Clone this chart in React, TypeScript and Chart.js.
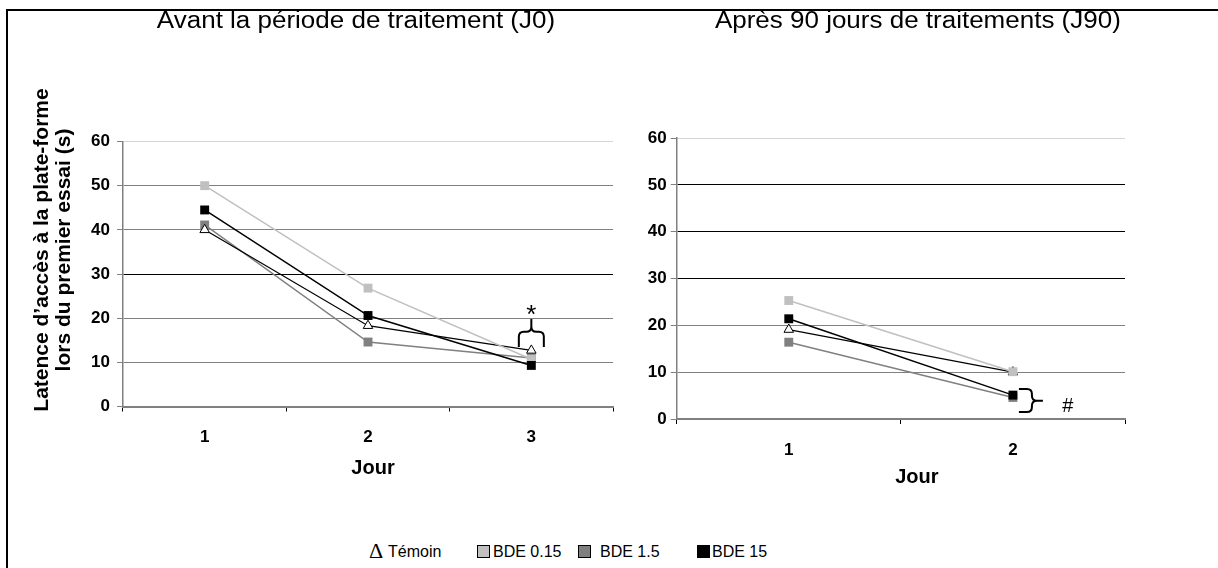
import React, { useEffect, useRef } from "react";
import { Chart, registerables } from "chart.js";

Chart.register(...registerables);

const FONT = '"Liberation Sans", Arial, Helvetica, sans-serif';
const SERIF = '"Liberation Serif", "Times New Roman", serif';

// ---------------- data ----------------
const seriesNames = ["Témoin", "BDE 0.15", "BDE 1.5", "BDE 15"];
const daysJ0 = ["1", "2", "3"];
const daysJ90 = ["1", "2"];

const temoinJ0 = [40.0, 18.3, 12.7];
const bde015J0 = [50.0, 26.8, 10.7];
const bde1p5J0 = [41.1, 14.6, 11.0];
const bde15J0 = [44.5, 20.6, 9.3];

const temoinJ90 = [19.1, 10.0];
const bde015J90 = [25.3, 10.1];
const bde1p5J90 = [16.4, 4.6];
const bde15J90 = [21.4, 5.1];

const yMin = 0;
const yMax = 60;
const yStep = 10;

const titleJ0 = "Avant la période de traitement (J0)";
const titleJ90 = "Après 90 jours de traitements (J90)";
const yTitleLines = ["Latence d’accès à la plate-forme", "lors du premier essai (s)"];
const xTitle = "Jour";
const starLabel = "*";
const hashLabel = "#";

// significance brace anchors (data units)
const starBraceJ0 = { index: 2, low: 13.5, mid: 16.9, high: 19.8, label: 22.3 };
const hashBraceJ90 = { index: 1, top: 6.4, mid: 3.9, bottom: 1.5, label: 2.6 };

// ---------------- styles ----------------
const seriesStyle = [
  { color: "#000000", point: "triangle", fill: "#ffffff", radius: 5.5, border: 1, order: 2, lineWidth: 1.25 },
  { color: "#c0c0c0", point: "rect", fill: "#c0c0c0", radius: 6.3, border: 0, order: 1, lineWidth: 1.5 },
  { color: "#808080", point: "rect", fill: "#808080", radius: 6.3, border: 0, order: 3, lineWidth: 1.5 },
  { color: "#000000", point: "rect", fill: "#000000", radius: 6.3, border: 0, order: 0, lineWidth: 1.5 },
];

const gridColorsJ0: Record<number, string> = {
  0: "#808080", 10: "#808080", 20: "#808080", 30: "#000000", 40: "#808080", 50: "#808080", 60: "#d4d4d4",
};
const gridColorsJ90: Record<number, string> = {
  0: "#808080", 10: "#808080", 20: "#808080", 30: "#000000", 40: "#000000", 50: "#000000", 60: "#d4d4d4",
};

function makeDatasets(valueSets: number[][]) {
  return valueSets.map((vals, i) => {
    const s = seriesStyle[i];
    return {
      label: seriesNames[i],
      data: vals,
      borderColor: s.color,
      borderWidth: s.lineWidth,
      backgroundColor: s.fill,
      pointStyle: s.point,
      pointRadius: s.radius,
      pointHoverRadius: s.radius,
      pointBackgroundColor: s.fill,
      pointBorderColor: "#000000",
      pointBorderWidth: s.border,
      tension: 0,
      order: s.order,
      clip: false as any,
    };
  });
}

function braceDown(ctx: CanvasRenderingContext2D, xc: number, half: number, yTop: number, yMid: number, yBot: number) {
  const r = 5;
  ctx.beginPath();
  ctx.moveTo(xc - half, yBot);
  ctx.lineTo(xc - half, yMid + r);
  ctx.quadraticCurveTo(xc - half, yMid, xc - half + r, yMid);
  ctx.lineTo(xc - r, yMid);
  ctx.quadraticCurveTo(xc, yMid, xc, yMid - r);
  ctx.lineTo(xc, yTop);
  ctx.moveTo(xc + half, yBot);
  ctx.lineTo(xc + half, yMid + r);
  ctx.quadraticCurveTo(xc + half, yMid, xc + half - r, yMid);
  ctx.lineTo(xc + r, yMid);
  ctx.quadraticCurveTo(xc, yMid, xc, yMid - r);
  ctx.stroke();
}

function braceRight(ctx: CanvasRenderingContext2D, x0: number, x1: number, x2: number, yTop: number, yMid: number, yBot: number) {
  const r = 5;
  ctx.beginPath();
  ctx.moveTo(x0, yTop);
  ctx.lineTo(x1 - r, yTop);
  ctx.quadraticCurveTo(x1, yTop, x1, yTop + r);
  ctx.lineTo(x1, yMid - r);
  ctx.quadraticCurveTo(x1, yMid, x1 + r, yMid);
  ctx.lineTo(x2, yMid);
  ctx.moveTo(x0, yBot);
  ctx.lineTo(x1 - r, yBot);
  ctx.quadraticCurveTo(x1, yBot, x1, yBot - r);
  ctx.lineTo(x1, yMid + r);
  ctx.quadraticCurveTo(x1, yMid, x1 + r, yMid);
  ctx.stroke();
}

// draws horizontally-stretched title text centered at (cx, cy)
function stretchedText(ctx: CanvasRenderingContext2D, text: string, cx: number, cy: number, sx: number) {
  ctx.save();
  ctx.translate(cx, cy);
  ctx.scale(sx, 1);
  ctx.fillText(text, 0, 0);
  ctx.restore();
}

type PanelProps = {
  left: number;
  width: number;
  height: number;
  labels: string[];
  values: number[][];
  gridColors: Record<number, string>;
  padding: { top: number; right: number; left: number; bottom: number };
  xHeight: number;
  yWidth: number;
  xTickPad: number;
  yTickPad: number;
  overlay: (chart: any) => void;
};

function Panel(p: PanelProps) {
  const ref = useRef<HTMLCanvasElement>(null);
  useEffect(() => {
    const tickFont = { family: FONT, size: 17, weight: "bold" as const };
    const chart = new Chart(ref.current!, {
      type: "line",
      data: { labels: p.labels, datasets: makeDatasets(p.values) as any },
      options: {
        animation: false,
        responsive: false,
        devicePixelRatio: 1,
        layout: { padding: p.padding },
        plugins: { legend: { display: false }, tooltip: { enabled: false }, title: { display: false } },
        scales: {
          x: {
            type: "category",
            offset: true,
            grid: {
              offset: true,
              drawOnChartArea: false,
              drawTicks: true,
              tickLength: 5,
              tickColor: "#000000",
              color: "#000000",
              lineWidth: 1,
            },
            border: { display: true, color: "#808080", width: 2 },
            ticks: { font: tickFont, color: "#000000", padding: p.xTickPad, maxRotation: 0 },
            afterFit: (s: any) => {
              s.height = p.xHeight;
            },
          },
          y: {
            min: yMin,
            max: yMax,
            ticks: { stepSize: yStep, font: tickFont, color: "#000000", padding: p.yTickPad },
            grid: {
              color: (c: any) => p.gridColors[c.tick?.value] ?? "#808080",
              tickColor: "#808080",
              tickLength: 6,
              lineWidth: 1,
            },
            border: { display: true, color: "#808080", width: 1.5 },
            afterFit: (s: any) => {
              s.width = p.yWidth;
            },
          },
        },
      },
      plugins: [
        {
          id: "overlay",
          afterDraw: (chart: any) => p.overlay(chart),
        },
      ],
    });
    return () => chart.destroy();
  }, []);
  return (
    <canvas
      ref={ref}
      width={p.width}
      height={p.height}
      style={{ position: "absolute", left: p.left, top: 0, width: p.width, height: p.height, display: "block" }}
    />
  );
}

function overlayJ0(chart: any) {
  const { ctx, chartArea: a, scales } = chart;
  const x = scales.x;
  const y = scales.y;
  const cx = (a.left + a.right) / 2;
  ctx.save();
  ctx.fillStyle = "#000";
  ctx.strokeStyle = "#000";
  ctx.textAlign = "center";
  ctx.textBaseline = "middle";
  // panel title
  ctx.font = `23px ${FONT}`;
  stretchedText(ctx, titleJ0, cx - 12, 22, 1.13);
  // x title
  ctx.font = `bold 20px ${FONT}`;
  ctx.fillText(xTitle, cx + 5, a.bottom + 61.5);
  // y title (two lines, rotated)
  const cy = (a.top + a.bottom) / 2 - 24;
  ctx.font = `bold 21px ${FONT}`;
  [42, 64].forEach((lx, i) => {
    ctx.save();
    ctx.translate(lx, cy);
    ctx.rotate(-Math.PI / 2);
    ctx.fillText(yTitleLines[i], 0, 0);
    ctx.restore();
  });
  // significance brace + star
  const b = starBraceJ0;
  const xc = x.getPixelForValue(b.index);
  ctx.lineWidth = 2;
  braceDown(ctx, xc, 12.5, y.getPixelForValue(b.high), y.getPixelForValue(b.mid), y.getPixelForValue(b.low));
  ctx.font = `26px ${FONT}`;
  ctx.textBaseline = "alphabetic";
  ctx.fillText(starLabel, xc, y.getPixelForValue(b.label) + 0.57 * 26);
  ctx.restore();
}

function overlayJ90(chart: any) {
  const { ctx, chartArea: a, scales } = chart;
  const x = scales.x;
  const y = scales.y;
  const cx = (a.left + a.right) / 2;
  ctx.save();
  ctx.fillStyle = "#000";
  ctx.strokeStyle = "#000";
  ctx.textAlign = "center";
  ctx.textBaseline = "middle";
  ctx.font = `23px ${FONT}`;
  stretchedText(ctx, titleJ90, cx + 17, 22, 1.13);
  ctx.font = `bold 20px ${FONT}`;
  ctx.fillText(xTitle, cx + 16, a.bottom + 58);
  const b = hashBraceJ90;
  const xc = x.getPixelForValue(b.index);
  ctx.lineWidth = 2;
  braceRight(ctx, xc + 6, xc + 19, xc + 30, y.getPixelForValue(b.top), y.getPixelForValue(b.mid), y.getPixelForValue(b.bottom));
  ctx.font = `20px ${FONT}`;
  ctx.fillText(hashLabel, xc + 55, y.getPixelForValue(b.label));
  ctx.restore();
}

const legendItems = [
  { kind: "delta", left: 369, textLeft: 388 },
  { kind: "box", left: 477, textLeft: 493 },
  { kind: "box", left: 578, textLeft: 600 },
  { kind: "box", left: 697, textLeft: 712 },
];

function Legend() {
  return (
    <>
      {legendItems.map((it, i) => (
        <React.Fragment key={i}>
          {it.kind === "delta" ? (
            <div
              style={{
                position: "absolute",
                left: it.left,
                top: 551,
                transform: "translateY(-50%)",
                font: `22px ${SERIF}`,
                lineHeight: "24px",
                color: "#000",
              }}
            >
              Δ
            </div>
          ) : (
            <div
              style={{
                position: "absolute",
                left: it.left,
                top: 545,
                width: 11,
                height: 11,
                background: seriesStyle[i].fill,
                border: "1px solid #000",
              }}
            />
          )}
          <div
            style={{
              position: "absolute",
              left: it.textLeft,
              top: 552,
              transform: "translateY(-50%)",
              font: `16px ${FONT}`,
              lineHeight: "18px",
              color: "#000",
              whiteSpace: "nowrap",
            }}
          >
            {seriesNames[i]}
          </div>
        </React.Fragment>
      ))}
    </>
  );
}

export default function App() {
  return (
    <div
      style={{
        position: "fixed",
        left: 0,
        top: 0,
        width: 1218,
        height: 568,
        overflow: "hidden",
        background: "#ffffff",
      }}
    >
      <div
        style={{
          position: "absolute",
          left: 6,
          top: 9,
          width: 1240,
          height: 600,
          borderTop: "2px solid #000",
          borderLeft: "2px solid #000",
        }}
      />
      <Panel
        left={0}
        width={620}
        height={510}
        labels={daysJ0}
        values={[temoinJ0, bde015J0, bde1p5J0, bde15J0]}
        gridColors={gridColorsJ0}
        padding={{ top: 141.5, right: 7, left: 0, bottom: 0 }}
        xHeight={103.5}
        yWidth={123}
        xTickPad={16}
        yTickPad={7}
        overlay={overlayJ0}
      />
      <Panel
        left={620}
        width={598}
        height={510}
        labels={daysJ90}
        values={[temoinJ90, bde015J90, bde1p5J90, bde15J90]}
        gridColors={gridColorsJ90}
        padding={{ top: 138, right: 93, left: 0, bottom: 0 }}
        xHeight={91}
        yWidth={56.7}
        xTickPad={16}
        yTickPad={4}
        overlay={overlayJ90}
      />
      <Legend />
    </div>
  );
}
